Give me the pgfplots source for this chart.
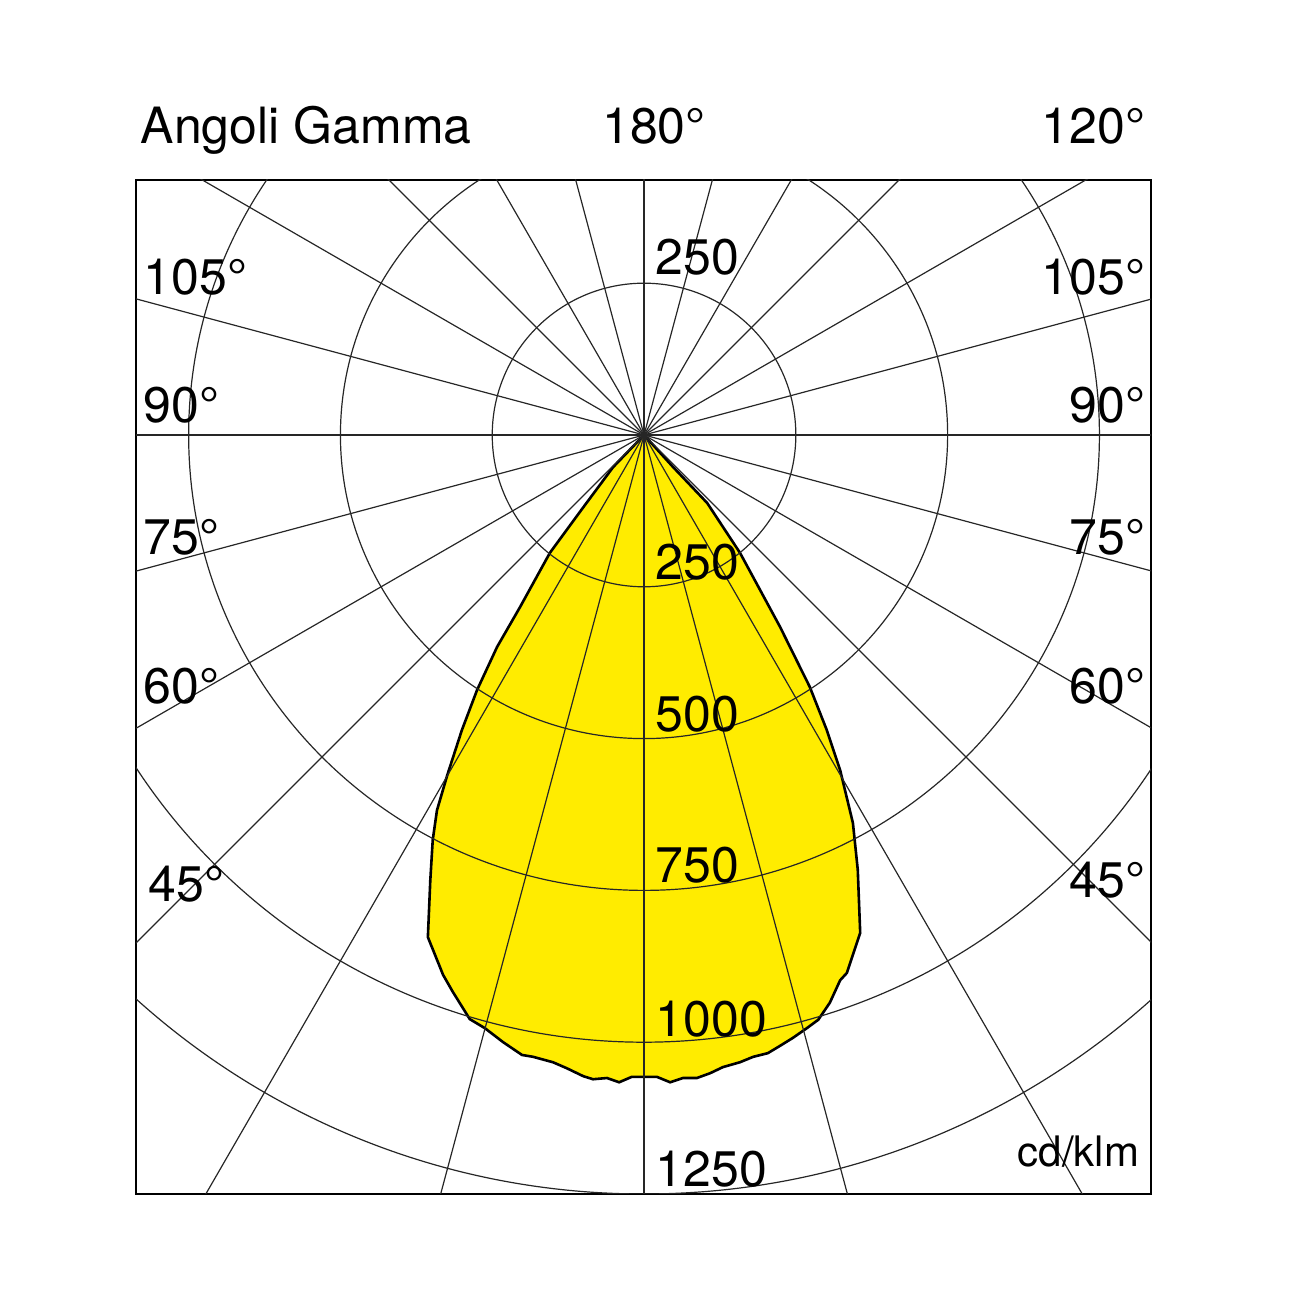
\documentclass[border=0pt]{standalone}
\usepackage{fontspec}
\setmainfont{TeX Gyre Heros}
\usepackage{pgfplots}
\pgfplotsset{compat=1.18}
\definecolor{lumyellow}{RGB}{255,236,0}
\tikzset{gridline/.style={black!85, line width=0.3pt}}
\begin{document}
\begin{tikzpicture}
\path[use as bounding box] (0,0) rectangle (325.5pt,325.5pt);
\begin{axis}[
  at={(34pt,27pt)}, anchor=south west,
  scale only axis, width=253.75pt, height=253.5pt,
  xmin=-836.7, xmax=835, ymin=-1250, ymax=420,
  xtick=\empty, ytick=\empty,
  axis line style={black, line width=0.4pt},
]
\addplot[fill=lumyellow, draw=black, line width=0.65pt] table {
x y
0 0
48 -53
104 -112
158 -194
224 -316
273 -415
301 -486
323 -552
344 -639
352 -716
356 -820
334 -886
323 -898
306 -935
287 -963
268 -977
245 -993
224 -1006
204 -1018
180 -1024
158 -1033
130 -1041
109 -1051
87 -1059
64 -1059
43 -1066
21 -1057
0 -1057
-20 -1057
-41 -1066
-61 -1059
-84 -1061
-100 -1056
-127 -1043
-150 -1033
-183 -1024
-201 -1021
-232 -1000
-262 -977
-287 -962
-315 -917
-331 -889
-356 -827
-352 -733
-348 -667
-341 -618
-324 -560
-300 -486
-275 -420
-242 -349
-204 -283
-155 -194
-100 -119
-51 -53
0 0
} -- cycle;
\pgfplotsinvokeforeach{0,15,...,165}{
  \draw[gridline] (axis cs:{-3000*cos(#1)},{-3000*sin(#1)}) -- (axis cs:{3000*cos(#1)},{3000*sin(#1)});
}
\pgfplotsinvokeforeach{250,500,750,1000,1250}{
  \draw[gridline] (axis cs:0,0) circle [radius=#1];
}
\end{axis}
\tikzset{lab/.style={inner sep=0pt, font=\fontsize{12.5}{15}\selectfont}}
\node[lab, anchor=base west] at (35pt,289.5pt) {Angoli Gamma};
\node[lab, anchor=base] at (163.5pt,289.5pt) {180°};
\node[lab, anchor=base east] at (286.5pt,289.5pt) {120°};
% left
\node[lab, anchor=base west] at (35.75pt,251.75pt) {105°};
\node[lab, anchor=base west] at (35.75pt,219.75pt) {90°};
\node[lab, anchor=base west] at (35.75pt,186.75pt) {75°};
\node[lab, anchor=base west] at (35.75pt,149.5pt) {60°};
\node[lab, anchor=base west] at (37pt,100pt) {45°};
% right
\node[lab, anchor=base east] at (286.5pt,251.75pt) {105°};
\node[lab, anchor=base east] at (286.5pt,219.75pt) {90°};
\node[lab, anchor=base east] at (286.5pt,186.75pt) {75°};
\node[lab, anchor=base east] at (286.5pt,149.5pt) {60°};
\node[lab, anchor=base east] at (286.5pt,101pt) {45°};
% scale values
\node[lab, anchor=base west] at (163.75pt,256.75pt) {250};
\node[lab, anchor=base west] at (163.75pt,180.5pt) {250};
\node[lab, anchor=base west] at (163.75pt,142.5pt) {500};
\node[lab, anchor=base west] at (163.75pt,104.75pt) {750};
\node[lab, anchor=base west] at (163.75pt,66.25pt) {1000};
\node[lab, anchor=base west] at (163.75pt,28.75pt) {1250};
\node[inner sep=0pt, font=\fontsize{10.5}{12}\selectfont, anchor=base east] at (285pt,33.75pt) {cd/klm};
\end{tikzpicture}
\end{document}
